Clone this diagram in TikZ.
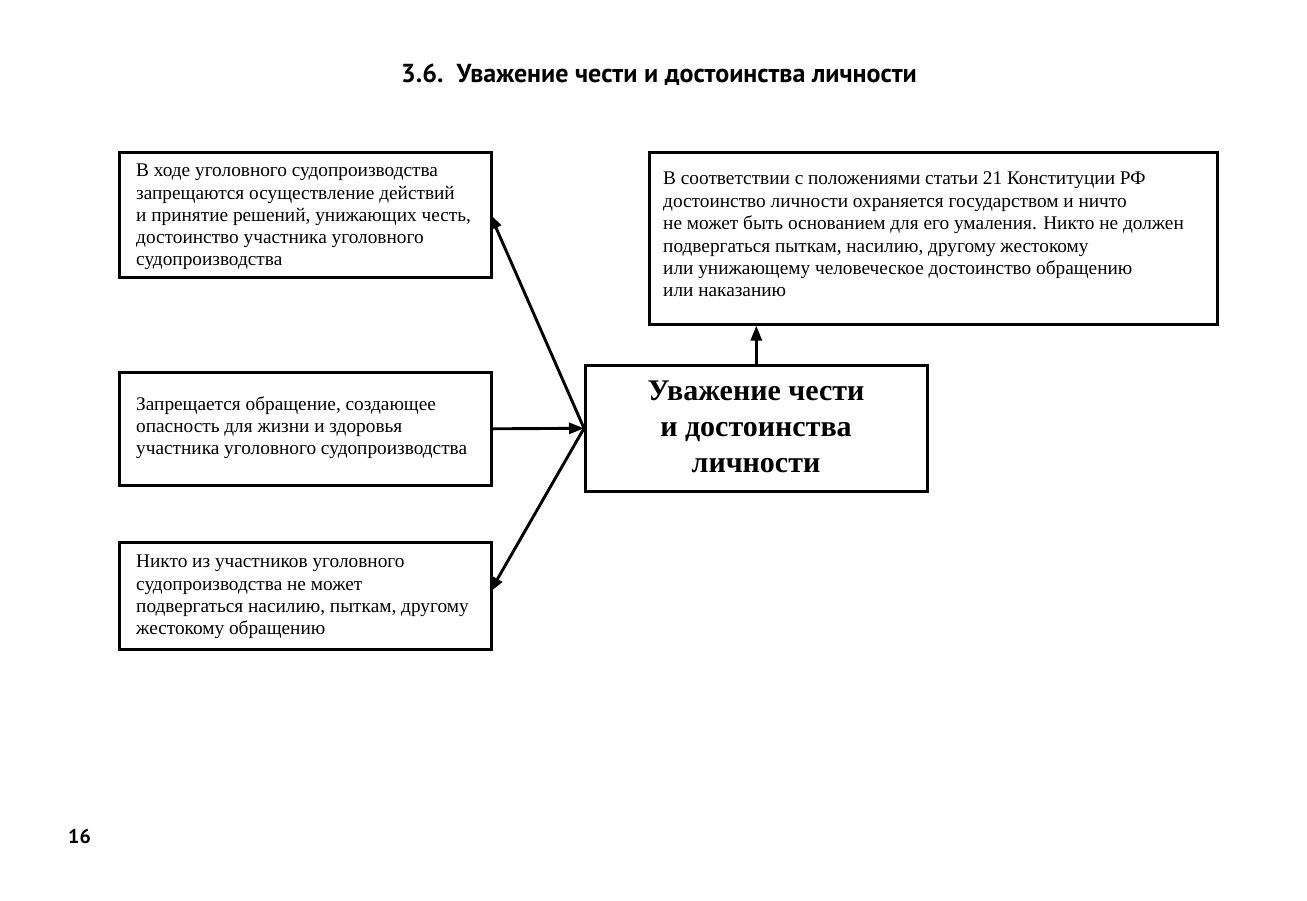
\documentclass[tikz,border=0pt]{standalone}
\usepackage{fontspec}
\setmainfont{Liberation Serif}
\newfontfamily\titlefont{PT Sans}
\usetikzlibrary{arrows.meta}
\tikzset{
  box/.style={draw=black, line width=2.6pt, rectangle, inner sep=0pt, anchor=north west},
  txt/.style={anchor=north west, inner sep=0pt, align=left, font=\fontsize{19.3}{22.2}\selectfont},
  ctxt/.style={anchor=center, inner sep=0pt, align=center, font=\fontsize{30}{36}\selectfont\bfseries},
  conn/.style={line width=2.9pt, -{Triangle[length=15pt,width=11pt]}},
}
\begin{document}
\begin{tikzpicture}[x=1pt,y=-1pt]
\useasboundingbox (0,0) rectangle (1307,900);
\node[anchor=base, inner sep=0pt, font=\titlefont\bfseries\fontsize{26}{30}\selectfont] (title) at (659,82) {3.6.\ \ Уважение чести и достоинства личности};
\node[anchor=base west, inner sep=0pt, font=\titlefont\bfseries\fontsize{20}{22}\selectfont] (page) at (68,843) {16};

\node[box, minimum width=372pt, minimum height=125pt] (b1) at (118,151) {};
\node[box, minimum width=568pt, minimum height=172pt] (b2) at (648,151) {};
\node[box, minimum width=372pt, minimum height=113pt] (b3) at (118,371) {};
\node[box, minimum width=372pt, minimum height=107pt] (b4) at (118,541) {};
\node[box, minimum width=342pt, minimum height=126pt] (c) at (584,364) {};

\node[txt] (t1) at (136,164) {В ходе уголовного судопроизводства\\запрещаются осуществление действий\\и принятие решений, унижающих честь,\\достоинство участника уголовного\\судопроизводства};
\node[txt, font=\fontsize{19.3}{22.4}\selectfont] (t2) at (663,172) {В соответствии с положениями статьи 21 Конституции РФ\\достоинство личности охраняется государством и ничто\\не может быть основанием для его умаления. Никто не должен\\подвергаться пыткам, насилию, другому жестокому\\или унижающему человеческое достоинство обращению\\или наказанию};
\node[txt] (t3) at (136,396) {Запрещается обращение, создающее\\опасность для жизни и здоровья\\участника уголовного судопроизводства};
\node[txt] (t4) at (136,555) {Никто из участников уголовного\\судопроизводства не может\\подвергаться насилию, пыткам, другому\\жестокому обращению};
\node[ctxt] (ct) at (756,427) {Уважение чести\\и достоинства\\личности};

\coordinate (e1) at (490,214);
\coordinate (e4) at (490,592);
\draw[conn] (c.west) -- (e1);
\draw[conn] (c.west) -- (e4);
\draw[conn] (b3.east) -- (c.west);
\draw[conn] (c.north) -- (c.north |- b2.south);
\end{tikzpicture}
\end{document}
